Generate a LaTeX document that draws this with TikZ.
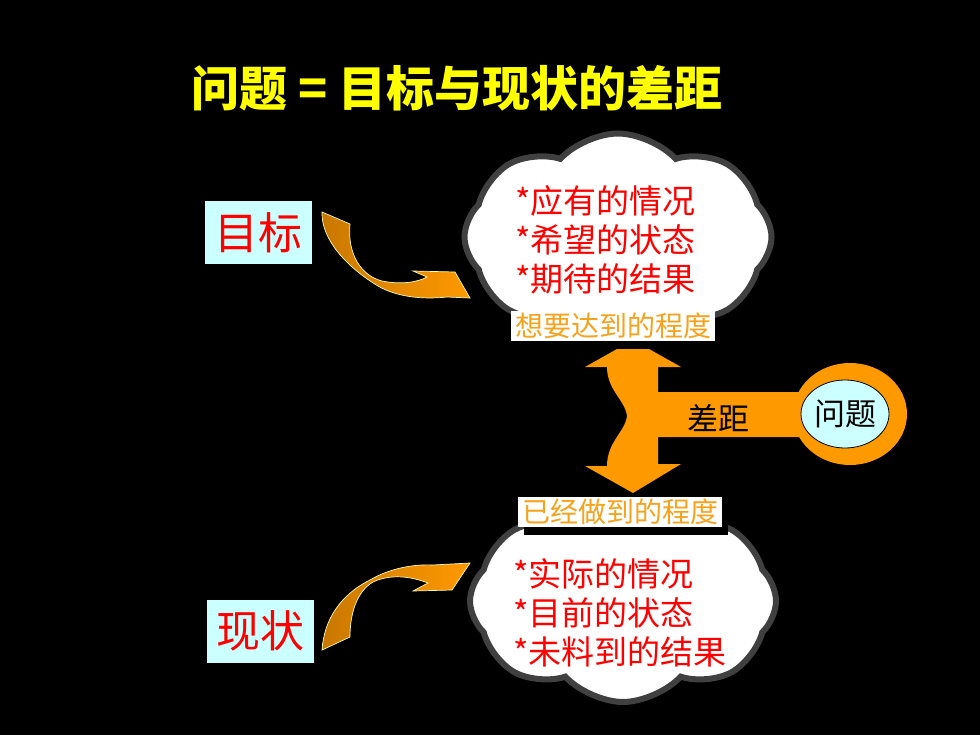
\documentclass[tikz,border=0pt]{standalone}
\usepackage{fontspec}
\setmainfont{Noto Sans CJK SC}
\usepackage{tikz}
\usetikzlibrary{shapes.geometric,shapes.symbols,shadows}
\definecolor{gapor}{HTML}{FF9900}
\definecolor{darkor}{HTML}{C87800}
\definecolor{pale}{HTML}{CCFFFF}
\definecolor{rim}{HTML}{404040}
\definecolor{lblor}{HTML}{F5A21C}
\definecolor{ttl}{HTML}{FFFF00}
\definecolor{txtred}{HTML}{FF0000}

\begin{document}
\begin{tikzpicture}[x=1pt,y=-1pt,
  puff/.style={cloud, cloud puffs=8, cloud puff arc=95, cloud ignores aspect, draw=rim, line width=6pt, fill=white, inner sep=0pt},
  tag/.style={fill=pale, text=txtred, font=\fontsize{44}{44}\selectfont, minimum width=107pt, minimum height=63pt, inner sep=0pt},
  lines/.style={anchor=west, align=left, text=txtred, fill=white, font=\fontsize{33}{39}\selectfont, inner sep=0pt},
  degree/.style={fill=white, text=lblor, font=\fontsize{28}{28}\selectfont, inner xsep=4pt, inner ysep=2pt, drop shadow={shadow xshift=6pt,shadow yshift=-8pt,fill=black,opacity=1}},
  swoop/.style={left color=darkor, right color=gapor, draw=white!70!yellow, line width=0.7pt}]
\fill[black] (0,0) rectangle (980,735);
\useasboundingbox (0,0) rectangle (980,735);
\node[text=ttl, font=\bfseries\fontsize{48}{48}\selectfont] (title) at (457,88) {问题 = 目标与现状的差距};
\node[puff, minimum width=307pt, minimum height=207pt] (g) at (618,237) {};
\node[puff, minimum width=306pt, minimum height=202pt] (n) at (623,601) {};
\node[lines] (gl) at (515,240) {*应有的情况\\*希望的状态\\*期待的结果};
\node[lines] (nl) at (513,613) {*实际的情况\\*目前的状态\\*未料到的结果};
\fill[gapor] (633,340) -- (681,367) -- (658,367) -- (658,392) -- (820,392) -- (820,437) -- (658,437) -- (658,464) -- (681,464) -- (633,493) -- (585,466) -- (607,466) .. controls (607,442) and (625,432) .. (627,416) .. controls (625,400) and (607,390) .. (607,367) -- (585,367) -- cycle;
\node[ellipse, fill=gapor, minimum width=114pt, minimum height=102pt, inner sep=0pt] (ring) at (850,414) {};
\node[ellipse, fill=pale, draw=black, line width=0.8pt, minimum width=88pt, minimum height=68pt, inner sep=0pt, font=\fontsize{31}{31}\selectfont] (issue) at (845,414) {问题};
\node[font=\fontsize{31}{31}\selectfont] (gap) at (718,418) {差距};
\node[degree] (want) at (613,326) {想要达到的程度};
\node[degree] (done) at (620,512) {已经做到的程度};
\node[tag] (goal) at (258,233) {目标};
\node[tag] (now) at (260,631) {现状};
\draw[swoop] (322,212) -- (350,224) .. controls (347,255) and (362,276) .. (382,281) .. controls (402,285) and (418,282) .. (427,277) -- (413,271) -- (455,272) -- (470,298) -- (447,297) .. controls (420,300) and (395,296) .. (378,286) .. controls (348,268) and (321,240) .. (322,212) -- cycle;
\draw[swoop] (322,650) .. controls (324,620) and (340,595) .. (370,580) .. controls (390,568) and (415,564) .. (433,565) -- (470,563) -- (452,590) -- (413,591) -- (428,583) .. controls (410,576) and (390,574) .. (373,582) .. controls (356,592) and (350,615) .. (350,637) -- cycle;
\end{tikzpicture}
\end{document}
